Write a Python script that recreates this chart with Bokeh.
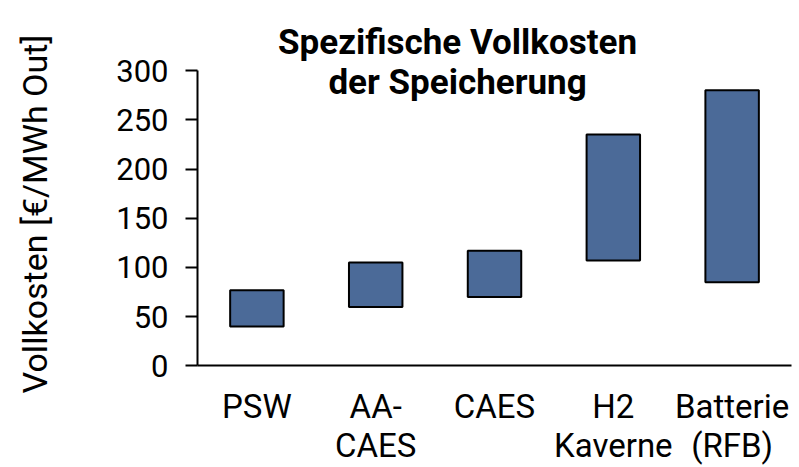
import math
from bokeh.plotting import figure
from bokeh.models import ColumnDataSource, Range1d, FixedTicker, Label
from bokeh.embed import file_html
from bokeh.resources import INLINE

categories = ["PSW", "AA-\nCAES", "CAES", "H2\nKaverne", "Batterie\n(RFB)"]
cost_min = [40, 60, 70, 107, 85]
cost_max = [77, 105, 117, 235, 280]
y_ticks = [0, 50, 100, 150, 200, 250, 300]
title_lines = ["Spezifische Vollkosten", "der Speicherung"]
y_label = "Vollkosten [€/MWh Out]"

FONT = "Roboto"

idx = list(range(len(categories)))
src = ColumnDataSource(dict(x=idx, cat=categories, lo=cost_min, hi=cost_max))

# frame covers the whole canvas; axes are drawn at fixed locations inside it
p = figure(width=799, height=467, x_range=Range1d(-2.158, 4.567), y_range=Range1d(-103.05, 371.07),
           output_backend="svg", toolbar_location=None,
           min_border_left=0, min_border_right=0, min_border_top=0, min_border_bottom=0)
p.title.visible = False

p.vbar(x="x", bottom="lo", top="hi", width=0.45, source=src,
       fill_color="#4B6A98", line_color="black", line_width=2)

p.grid.visible = False
p.outline_line_color = None

xa = p.xaxis[0]
xa.fixed_location = 0
xa.bounds = (-0.5, len(categories) - 0.5)
xa.ticker = FixedTicker(ticks=idx)
xa.major_label_overrides = {i: c for i, c in zip(idx, categories)}
xa.axis_line_width = 2
xa.axis_line_color = "black"
xa.major_tick_line_color = None
xa.minor_tick_line_color = None
xa.major_tick_out = 0
xa.major_tick_in = 0
xa.major_label_standoff = 21
xa.major_label_text_font = FONT
xa.major_label_text_font_size = "33px"
xa.major_label_text_line_height = 1.0
xa.major_label_text_color = "black"
xa.major_label_orientation = "horizontal"

ya = p.yaxis[0]
ya.fixed_location = -0.5
ya.ticker = FixedTicker(ticks=y_ticks)
ya.bounds = (0, 300)
ya.axis_line_width = 2
ya.axis_line_color = "black"
ya.major_tick_line_width = 2
ya.major_tick_out = 12
ya.major_tick_in = 0
ya.minor_tick_line_color = None
ya.major_label_standoff = 17
ya.major_label_text_font = FONT
ya.major_label_text_font_size = "31px"
ya.major_label_text_color = "black"

p.add_layout(Label(x=-1.864, y=154.3, text=y_label, angle=math.pi / 2, text_align="center",
                   text_baseline="middle", text_font=FONT, text_font_size="34px",
                   text_color="black"))

for line, ypos in zip(title_lines, [328.7, 287.8]):
    p.add_layout(Label(x=1.689, y=ypos, text=line, text_align="center", text_baseline="alphabetic",
                       text_font=FONT, text_font_size="35px", text_font_style="bold",
                       text_color="black"))

open("out.html", "w").write(file_html(p, INLINE))
